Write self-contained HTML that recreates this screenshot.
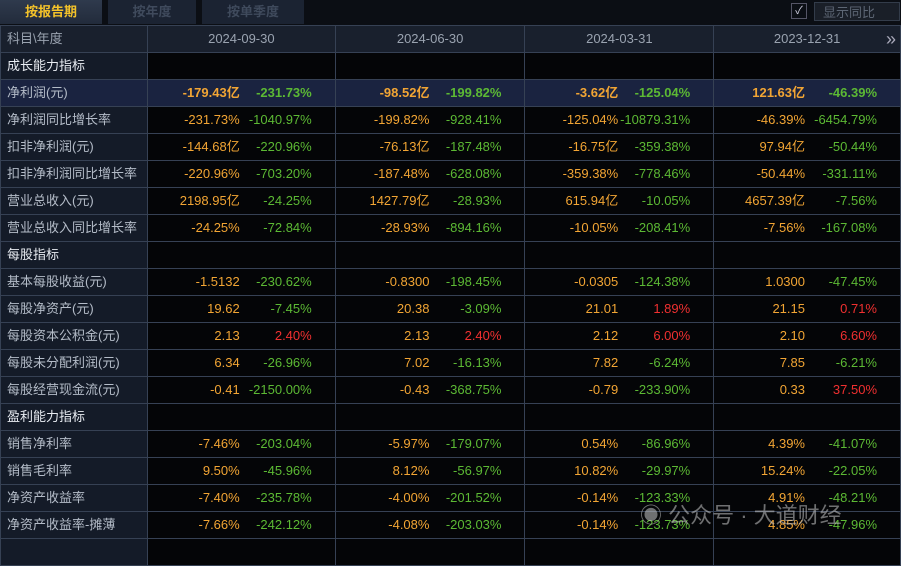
<!DOCTYPE html>
<html><head><meta charset="utf-8"><style>
body{margin:0;width:901px;height:548px;overflow:hidden;background:#0b0e14;font-family:"Liberation Sans","Noto Sans CJK SC",sans-serif;position:relative}
.tab{position:absolute;top:0;height:24px;line-height:24px;text-align:center;font-size:13px;font-weight:bold;background:#1b2332;color:#3f4a5c}
.tab.on{background:linear-gradient(#2f3a4d,#222b3b);color:#f3c22a}
#tbl{position:absolute;left:0;top:25px;border-collapse:collapse;table-layout:fixed}
#tbl td{height:26px;line-height:26px;border:1px solid #364154;padding:0;font-size:13px;white-space:nowrap;position:relative;background:#040507;overflow:hidden}
#tbl td.lab{background:#141b28;color:#b4bcc8;padding-left:6px}
#tbl td.sec{color:#e8ecf2}
#tbl tr.hd td{background:#19202d;color:#9aa3b0;text-align:center}
#tbl tr.hl td{background:#1a2340}
.p,.y{position:absolute;top:0;height:26px;line-height:26px}
.p{right:95px;color:#f2a534}
.y{right:23px}
.g{color:#5cb934}.r{color:#f03030}
tr.hl .p,tr.hl .y{font-weight:bold}
</style></head><body>
<div class="tab on" style="left:0;width:102px">按报告期</div>
<div class="tab" style="left:108px;width:88px">按年度</div>
<div class="tab" style="left:202px;width:102px">按单季度</div>
<div style="position:absolute;left:791px;top:3px;width:14px;height:14px;border:1px solid #556;color:#ccd;font-size:11px;line-height:14px;text-align:center">✓</div>
<div style="position:absolute;left:814px;top:2px;width:86px;height:19px;border:1px solid #333c4a;background:#1a1f28;color:#5d6674;font-size:13px;line-height:19px;padding-left:8px;box-sizing:border-box">显示同比</div>
<table id="tbl">
<colgroup><col style="width:147px"><col style="width:188px"><col style="width:190px"><col style="width:189px"><col style="width:187px"></colgroup>
<tbody id="tb"></tbody></table>
<div style="position:absolute;left:640px;top:498px;color:rgba(200,200,200,0.55);font-size:22px">◉ 公众号 · 大道财经</div>
<script>
const periods=["2024-09-30","2024-06-30","2024-03-31","2023-12-31"];
const rows=[
["成长能力指标"],
["净利润(元)",["-179.43亿","-231.73%"],["-98.52亿","-199.82%"],["-3.62亿","-125.04%"],["121.63亿","-46.39%"]],
["净利润同比增长率",["-231.73%","-1040.97%"],["-199.82%","-928.41%"],["-125.04%","-10879.31%"],["-46.39%","-6454.79%"]],
["扣非净利润(元)",["-144.68亿","-220.96%"],["-76.13亿","-187.48%"],["-16.75亿","-359.38%"],["97.94亿","-50.44%"]],
["扣非净利润同比增长率",["-220.96%","-703.20%"],["-187.48%","-628.08%"],["-359.38%","-778.46%"],["-50.44%","-331.11%"]],
["营业总收入(元)",["2198.95亿","-24.25%"],["1427.79亿","-28.93%"],["615.94亿","-10.05%"],["4657.39亿","-7.56%"]],
["营业总收入同比增长率",["-24.25%","-72.84%"],["-28.93%","-894.16%"],["-10.05%","-208.41%"],["-7.56%","-167.08%"]],
["每股指标"],
["基本每股收益(元)",["-1.5132","-230.62%"],["-0.8300","-198.45%"],["-0.0305","-124.38%"],["1.0300","-47.45%"]],
["每股净资产(元)",["19.62","-7.45%"],["20.38","-3.09%"],["21.01","1.89%"],["21.15","0.71%"]],
["每股资本公积金(元)",["2.13","2.40%"],["2.13","2.40%"],["2.12","6.00%"],["2.10","6.60%"]],
["每股未分配利润(元)",["6.34","-26.96%"],["7.02","-16.13%"],["7.82","-6.24%"],["7.85","-6.21%"]],
["每股经营现金流(元)",["-0.41","-2150.00%"],["-0.43","-368.75%"],["-0.79","-233.90%"],["0.33","37.50%"]],
["盈利能力指标"],
["销售净利率",["-7.46%","-203.04%"],["-5.97%","-179.07%"],["0.54%","-86.96%"],["4.39%","-41.07%"]],
["销售毛利率",["9.50%","-45.96%"],["8.12%","-56.97%"],["10.82%","-29.97%"],["15.24%","-22.05%"]],
["净资产收益率",["-7.40%","-235.78%"],["-4.00%","-201.52%"],["-0.14%","-123.33%"],["4.91%","-48.21%"]],
["净资产收益率-摊薄",["-7.66%","-242.12%"],["-4.08%","-203.03%"],["-0.14%","-123.73%"],["4.85%","-47.96%"]],
[""]
];
const tb=document.getElementById('tb');
let h='<tr class="hd"><td class="lab" style="text-align:left">科目\\年度</td>';
periods.forEach((p,i)=>{h+='<td>'+p+(i==3?'<span style="position:absolute;right:4px;top:0;font-size:18px;color:#aab">»</span>':'')+'</td>';});
tb.insertAdjacentHTML('beforeend',h+'</tr>');
rows.forEach((r,ri)=>{
  const tr=document.createElement('tr');
  
  
  if(ri==1)tr.className='hl';
  let s='<td class="lab'+(r.length==1?' sec':'')+'">'+r[0]+'</td>';
  for(let i=0;i<4;i++){
    const c=r[i+1];
    if(!c){s+='<td></td>';continue;}
    const cls=c[1].startsWith('-')?'g':'r';
    s+='<td><span class="p">'+c[0]+'</span><span class="y '+cls+'">'+c[1]+'</span></td>';
  }
  tr.innerHTML=s;tb.appendChild(tr);
});
</script>
</body></html>
